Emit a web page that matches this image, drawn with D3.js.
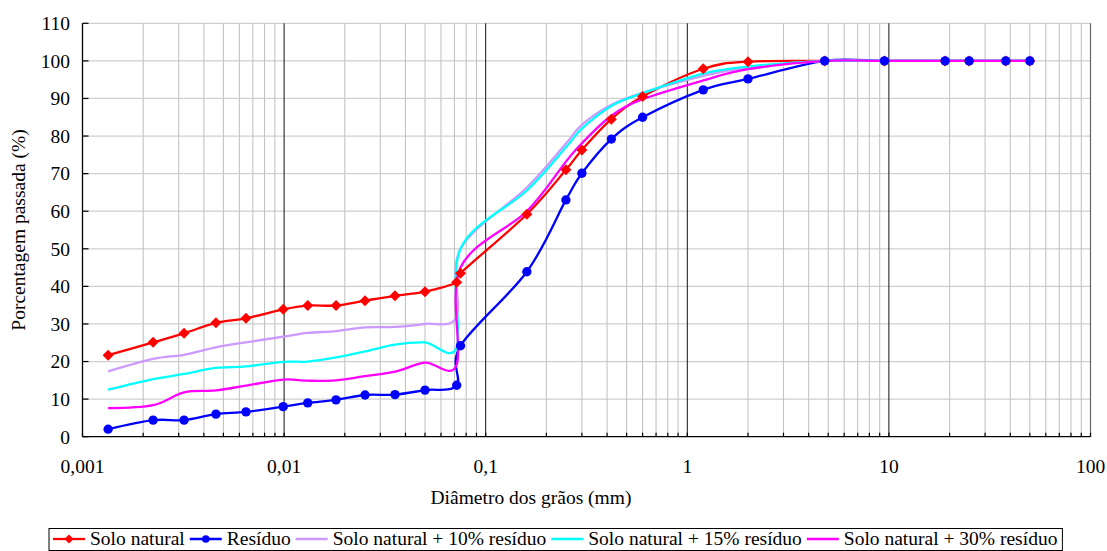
<!DOCTYPE html>
<html lang="pt">
<head>
  <meta charset="UTF-8" />
  <title>Curva granulométrica</title>
  <script src="https://d3js.org/d3.v7.min.js"></script>
  <style>
    body { margin: 0; padding: 0; background: #fff; }
    svg { display: block; font-family: "Liberation Serif", "Times New Roman", serif; }
  </style>
</head>
<body>
  <svg id="chart" width="1107" height="551"></svg>
  <script>
    // diâmetros (mm), comuns a todas as séries
    const diametros = [0.00134, 0.00224, 0.00319, 0.00459, 0.00647, 0.0099, 0.0131, 0.0181, 0.0252, 0.0355,
      0.0500, 0.0718, 0.075, 0.16, 0.25, 0.30, 0.42, 0.60, 1.2, 2.0, 4.8, 9.5, 19, 25, 38, 50];

    const soloNatural = [21.7, 25.1, 27.5, 30.3, 31.5, 33.9, 34.9, 34.9, 36.2, 37.5,
      38.6, 41.1, 43.5, 59.2, 71.0, 76.3, 84.5, 90.5, 97.9, 99.8, 100, 100, 100, 100, 100, 100];
    const residuo = [2.0, 4.4, 4.4, 6.0, 6.6, 8.0, 9.0, 9.8, 11.1, 11.2,
      12.4, 13.7, 24.2, 43.9, 63.0, 70.1, 79.2, 85.0, 92.3, 95.2, 100, 100, 100, 100, 100, 100];
    const solo10 = [17.4, 20.7, 21.8, 23.8, 25.1, 26.6, 27.6, 28.1, 29.1, 29.2,
      30.0, 31.9, 50.0, 66.3, 78.0, 83.0, 88.3, 91.5, 96.0, 98.2, 100, 100, 100, 100, 100, 100];
    const solo15 = [12.5, 15.3, 16.7, 18.3, 18.7, 19.9, 20.0, 21.1, 22.7, 24.5,
      25.1, 23.8, 50.0, 65.5, 77.0, 82.0, 88.0, 91.4, 96.6, 98.5, 100, 100, 100, 100, 100, 100];
    const solo30 = [7.6, 8.4, 11.8, 12.3, 13.6, 15.2, 14.9, 15.0, 16.1, 17.3,
      19.7, 19.2, 45.0, 60.0, 73.2, 78.1, 85.4, 89.8, 94.8, 97.8, 100, 100, 100, 100, 100, 100];

    const xTickValues = [0.001, 0.01, 0.1, 1, 10, 100];
    const xTickLabels = ["0,001", "0,01", "0,1", "1", "10", "100"];
    const yTickValues = d3.range(0, 111, 10);

    const series = [
      { name: "Solo natural", values: soloNatural, color: "#ff0000", marker: "diamond" },
      { name: "Resíduo", values: residuo, color: "#0000ff", marker: "circle" },
      { name: "Solo natural + 10% resíduo", values: solo10, color: "#cc99ff", marker: null },
      { name: "Solo natural + 15% resíduo", values: solo15, color: "#00ffff", marker: null },
      { name: "Solo natural + 30% resíduo", values: solo30, color: "#ff00ff", marker: null }
    ];

    const fs = 19.5;
    const svg = d3.select("#chart");
    const x = d3.scaleLog().domain([0.001, 100]).range([82.5, 1090.5]);
    const y = d3.scaleLinear().domain([0, 110]).range([436.7, 23.3]);

    // grade
    const minor = [];
    for (let e = -3; e < 2; e++) for (let m = 2; m <= 9; m++) minor.push(m * Math.pow(10, e));

    const grid = svg.append("g");
    grid.selectAll("line.h").data(yTickValues.filter(d => d > 0)).enter().append("line")
      .attr("x1", x(0.001)).attr("x2", x(100))
      .attr("y1", d => y(d)).attr("y2", d => y(d))
      .attr("stroke", "#cfcfcf").attr("stroke-width", 1.2);
    grid.selectAll("line.m").data(minor).enter().append("line")
      .attr("x1", d => x(d)).attr("x2", d => x(d))
      .attr("y1", y(0)).attr("y2", y(110))
      .attr("stroke", "#c4c4c4").attr("stroke-width", 1.1);
    grid.selectAll("line.d").data([0.01, 0.1, 1, 10]).enter().append("line")
      .attr("x1", d => x(d)).attr("x2", d => x(d))
      .attr("y1", y(0)).attr("y2", y(110))
      .attr("stroke", "#111").attr("stroke-width", 1);
    grid.append("line")
      .attr("x1", x(100)).attr("x2", x(100)).attr("y1", y(0)).attr("y2", y(110))
      .attr("stroke", "#666").attr("stroke-width", 1.2);

    // eixos
    const axes = svg.append("g");
    axes.append("line").attr("x1", x(0.001)).attr("x2", x(0.001)).attr("y1", y(0)).attr("y2", y(110))
      .attr("stroke", "#000").attr("stroke-width", 1.3);
    axes.append("line").attr("x1", x(0.001)).attr("x2", x(100)).attr("y1", y(0)).attr("y2", y(0))
      .attr("stroke", "#000").attr("stroke-width", 1.3);
    axes.selectAll("line.yt").data(yTickValues).enter().append("line")
      .attr("x1", x(0.001)).attr("x2", x(0.001) + 6)
      .attr("y1", d => y(d)).attr("y2", d => y(d))
      .attr("stroke", "#000").attr("stroke-width", 1.2);
    axes.selectAll("line.xt").data(minor.concat(xTickValues)).enter().append("line")
      .attr("x1", d => x(d)).attr("x2", d => x(d))
      .attr("y1", y(0)).attr("y2", y(0) - 4)
      .attr("stroke", "#000").attr("stroke-width", 1.2);

    axes.selectAll("text.yl").data(yTickValues).enter().append("text")
      .attr("x", 70).attr("y", d => y(d)).attr("dy", "0.35em")
      .attr("text-anchor", "end").attr("font-size", fs).text(d => d);
    axes.selectAll("text.xl").data(xTickValues).enter().append("text")
      .attr("x", d => x(d)).attr("y", 466).attr("dy", "0.35em")
      .attr("text-anchor", "middle").attr("font-size", fs)
      .text((d, i) => xTickLabels[i]);

    svg.append("text").attr("x", 531).attr("y", 497).attr("dy", "0.35em")
      .attr("text-anchor", "middle").attr("font-size", fs).text("Diâmetro dos grãos (mm)");
    svg.append("text").attr("transform", "translate(18,230) rotate(-90)").attr("dy", "0.35em")
      .attr("text-anchor", "middle").attr("font-size", fs).text("Porcentagem passada (%)");

    // curvas suavizadas
    const line = d3.line()
      .x((d, i) => x(diametros[i]))
      .y(d => y(d))
      .curve(d3.curveCardinal.tension(0));

    const plot = svg.append("g");
    series.forEach(s => {
      plot.append("path").datum(s.values)
        .attr("d", line).attr("fill", "none")
        .attr("stroke", s.color).attr("stroke-width", 2.3)
        .attr("stroke-linejoin", "round");
    });

    function drawMarker(g, kind, cx, cy, color, size) {
      if (kind === "diamond") {
        g.append("path")
          .attr("d", `M${cx},${cy - size}L${cx + size},${cy}L${cx},${cy + size}L${cx - size},${cy}Z`)
          .attr("fill", color);
      } else if (kind === "circle") {
        g.append("circle").attr("cx", cx).attr("cy", cy).attr("r", size * 0.85).attr("fill", color);
      }
    }

    series.filter(s => s.marker).forEach(s => {
      const gm = plot.append("g");
      s.values.forEach((v, i) => drawMarker(gm, s.marker, x(diametros[i]), y(v), s.color, 5.5));
    });

    // legenda
    const leg = svg.append("g");
    const box = leg.append("rect").attr("x", 49).attr("y", 528.5).attr("height", 22)
      .attr("fill", "#fff").attr("stroke", "#000").attr("stroke-width", 1);
    let lx = 53;
    const ly = 539;
    series.forEach(s => {
      leg.append("line").attr("x1", lx).attr("x2", lx + 32).attr("y1", ly).attr("y2", ly)
        .attr("stroke", s.color).attr("stroke-width", 2.3);
      if (s.marker) drawMarker(leg, s.marker, lx + 16, ly, s.color, 4.5);
      const t = leg.append("text").attr("x", lx + 37).attr("y", ly).attr("dy", "0.32em")
        .attr("font-size", fs).text(s.name);
      lx += 37 + t.node().getComputedTextLength() + 5;
    });
    box.attr("width", lx - 49);
  </script>
</body>
</html>
